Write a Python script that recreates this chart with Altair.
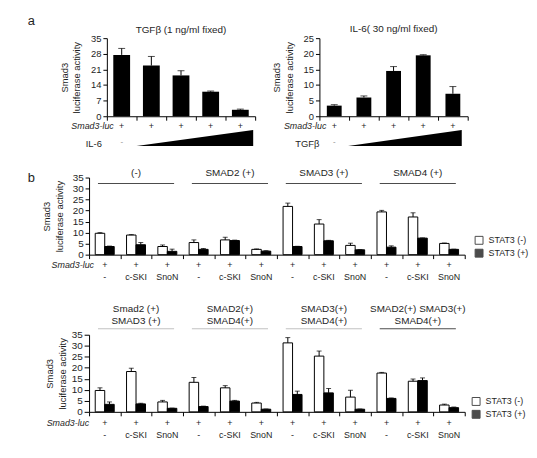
import altair as alt
import pandas as pd

FONT = "Liberation Sans"
INK = "#1e1e1e"

# ---------------- panel a data ----------------
a_steps = ["s1", "s2", "s3", "s4", "s5"]          # five dose steps
a1_title = "TGFβ (1 ng/ml fixed)"
a1_values = [27.5, 22.7, 18.3, 11.0, 2.9]
a1_errors = [2.9, 4.1, 2.1, 0.3, 0.3]
a1_ticks = [0, 7, 14, 21, 28, 35]
a1_dose_label = "IL-6"

a2_title = "IL-6( 30 ng/ml fixed)"
a2_values = [3.4, 6.0, 14.5, 19.5, 7.2]
a2_errors = [0.3, 0.5, 1.4, 0.2, 2.3]
a2_ticks = [0, 5, 10, 15, 20, 25]
a2_dose_label = "TGFβ"

luc_label = "Smad3-luc"
y_title = ["Smad3", "luciferase activity"]

# ---------------- panel b data ----------------
b_conditions = ["-", "c-SKI", "SnoN"]
b_stat3 = ["STAT3 (-)", "STAT3 (+)"]
b_ticks = [0, 5, 10, 15, 20, 25, 30, 35]

b1_groups = ["(-)", "SMAD2 (+)", "SMAD3 (+)", "SMAD4 (+)"]
b1_white = [9.7, 8.9, 3.7, 5.5, 6.7, 2.4, 21.9, 13.9, 4.2, 19.4, 17.1, 5.1]
b1_white_err = [0.3, 0.2, 0.7, 1.2, 1.2, 0.2, 1.5, 2.0, 1.0, 0.7, 1.9, 0.2]
b1_black = [3.7, 4.5, 1.5, 2.4, 6.4, 1.6, 3.7, 6.3, 2.2, 3.4, 7.5, 2.4]
b1_black_err = [0.2, 1.0, 1.0, 0.4, 0.2, 0.2, 0.1, 0.2, 0.1, 0.6, 0.1, 0.1]
b1_line_colors = ["#000000", "#000000", "#000000", "#000000"]

b2_groups_top = ["Smad2 (+)", "SMAD2(+)", "SMAD3(+)", "SMAD2(+) SMAD3(+)"]
b2_groups_bottom = ["SMAD3 (+)", "SMAD4(+)", "SMAD4(+)", "SMAD4(+)"]
b2_white = [9.7, 18.3, 4.5, 13.4, 10.9, 4.0, 31.3, 25.3, 6.7, 17.6, 13.9, 3.1]
b2_white_err = [1.2, 1.5, 0.7, 2.2, 1.0, 0.3, 2.4, 2.3, 3.1, 0.3, 1.0, 0.4]
b2_black = [3.4, 3.6, 1.6, 2.4, 4.9, 1.2, 7.9, 8.6, 1.2, 6.1, 14.2, 1.9]
b2_black_err = [1.1, 0.3, 0.1, 0.2, 0.3, 0.1, 1.5, 2.0, 0.1, 0.2, 1.2, 0.3]
b2_line_colors = ["#a8a8a8", "#a8a8a8", "#a8a8a8", "#000000"]


def note(text, x, y, color=INK, **mk):
    return alt.Chart(pd.DataFrame({"t": [text]})).mark_text(
        font=FONT, color=color, baseline="middle", **mk
    ).encode(text="t:N", x=alt.value(x), y=alt.value(y))


# ---------------- panel a ----------------
AW, AH = 150, 79


def panel_a(values, errors, ticks, ymax, title, title_y, dose_label, dose_x,
            luc_x, wedge_range, bar_w, extra):
    df = pd.DataFrame({"step": a_steps, "value": values,
                       "top": [v + e for v, e in zip(values, errors)]})
    xsc = alt.Scale(domain=a_steps, paddingInner=0, paddingOuter=0)
    xax = alt.Axis(labels=False, title=None, tickBand="extent", tickSize=4,
                   domainColor="black", tickColor="black")
    X = alt.X("step:N", scale=xsc, axis=xax)
    ysc = alt.Scale(domain=[0, ymax], nice=False)
    yax = alt.Axis(values=ticks, title=y_title, tickSize=4, labelPadding=2,
                   titlePadding=9, grid=False, labelFontSize=9.5,
                   titleLineHeight=12.5)
    base = alt.Chart(df)
    bars = base.mark_bar(color="black", width=bar_w).encode(
        x=X, y=alt.Y("value:Q", scale=ysc, axis=yax))
    err = base.mark_rule(color="black", strokeWidth=1).encode(
        x=X, y=alt.Y("value:Q", scale=ysc, axis=yax), y2="top:Q")
    cap = base.mark_tick(color="black", orient="horizontal", size=7,
                         thickness=1).encode(
        x=X, y=alt.Y("top:Q", scale=ysc, axis=yax))
    plus = base.mark_text(text="+", font=FONT, color=INK, fontSize=9,
                          baseline="middle").encode(x=X, y=alt.value(AH + 10))
    minus = alt.Chart(df.iloc[:1]).mark_text(
        text="-", font=FONT, color="#888888", fontSize=8, baseline="middle"
    ).encode(x=X, y=alt.value(AH + 26))
    layers = [bars, err, cap, plus, minus,
              note(title, AW / 2, title_y, fontSize=10, align="center"),
              note(luc_label, luc_x, AH + 10, fontSize=9, align="right",
                   fontStyle="italic"),
              note(dose_label, dose_x, AH + 28, fontSize=9.5, align="right")]
    layers += extra
    main = alt.layer(*layers)
    wdf = pd.DataFrame({"w": [0, 1], "h": [0, 1]})
    wedge = alt.Chart(wdf).mark_area(color="black").encode(
        x=alt.X("w:Q", scale=alt.Scale(domain=[0, 1], range=list(wedge_range)),
                axis=None),
        y=alt.Y("h:Q", scale=alt.Scale(domain=[0, 1], range=[AH + 30, AH + 14]),
                axis=None),
        y2=alt.value(AH + 30),
    )
    return alt.layer(main, wedge).resolve_scale(
        x="independent", y="independent").properties(width=AW, height=AH)


a1 = panel_a(a1_values, a1_errors, a1_ticks, 35, a1_title, -8, a1_dose_label,
             -5, 7, (30, 148), 17,
             [note("a", -80, -17, fontSize=13, align="left")])
a2 = panel_a(a2_values, a2_errors, a2_ticks, 25, a2_title, -9, a2_dose_label,
             0, 7, (29, 144), 15, [])
spacer = alt.Chart(pd.DataFrame({"t": [""]})).mark_text().encode(
    text="t:N").properties(width=1, height=1)
row1 = alt.hconcat(spacer, alt.hconcat(a1, a2, spacing=65, bounds="flush"),
                   spacing=17, bounds="flush")

# ---------------- panel b ----------------
BW, BH = 380, 78
b_keys = [f"{g}:{c}" for g in range(4) for c in b_conditions]


def panel_b(white, werr, black, berr, heads_top, heads_bottom, line_colors,
            head_ys, rule_y, tick_size, title_pad, luc_x, leg_xy, extra):
    rows = []
    for i, k in enumerate(b_keys):
        rows.append({"key": k, "stat": b_stat3[0], "value": white[i],
                     "top": white[i] + werr[i]})
        rows.append({"key": k, "stat": b_stat3[1], "value": black[i],
                     "top": black[i] + berr[i]})
    df = pd.DataFrame(rows)
    kdf = pd.DataFrame({"key": b_keys,
                        "cond": [k.split(":", 1)[1] for k in b_keys]})
    gdf = pd.DataFrame({"key": [f"{g}:c-SKI" for g in range(4)],
                        "l1": heads_top,
                        "l2": heads_bottom if heads_bottom else [""] * 4,
                        "lc": line_colors})

    xsc = alt.Scale(domain=b_keys, paddingInner=0, paddingOuter=0)
    xax = alt.Axis(labels=False, title=None, tickBand="extent", tickSize=4,
                   domainColor="black", tickColor="black")
    X = alt.X("key:N", scale=xsc, axis=xax)
    XO = alt.XOffset("stat:N", scale=alt.Scale(domain=b_stat3, paddingOuter=0.65,
                                              paddingInner=0))
    ysc = alt.Scale(domain=[0, 35], nice=False)
    yax = alt.Axis(values=b_ticks, title=y_title, tickSize=tick_size,
                   labelPadding=2, titlePadding=title_pad, grid=False,
                   labelFontSize=10, titleLineHeight=12.5)
    legend = alt.Legend(title=None, orient="none", legendX=leg_xy[0],
                        legendY=leg_xy[1],
                        symbolType="square", symbolSize=64,
                        symbolStrokeColor="black", symbolStrokeWidth=1,
                        symbolOpacity=1,
                        labelFont=FONT, labelFontSize=9, labelColor=INK,
                        rowPadding=0, labelOffset=5)
    base = alt.Chart(df)
    bars = base.mark_bar(stroke="black", strokeWidth=1, opacity=1).encode(
        x=X, xOffset=XO, y=alt.Y("value:Q", scale=ysc, axis=yax),
        color=alt.Color("stat:N", scale=alt.Scale(domain=b_stat3,
                                                  range=["white", "black"]),
                        legend=legend))
    err = base.mark_rule(color="black", strokeWidth=1).encode(
        x=X, xOffset=XO, y=alt.Y("value:Q", scale=ysc, axis=yax), y2="top:Q")
    cap = base.mark_tick(color="black", orient="horizontal", size=5,
                         thickness=1).encode(
        x=X, xOffset=XO, y=alt.Y("top:Q", scale=ysc, axis=yax))
    kb = alt.Chart(kdf)
    plus = kb.mark_text(text="+", font=FONT, color=INK, fontSize=9,
                        baseline="middle").encode(x=X, y=alt.value(BH + 11))
    conds = kb.mark_text(font=FONT, color=INK, fontSize=9,
                         baseline="middle").encode(
        x=X, y=alt.value(BH + 23), text="cond:N")
    gb = alt.Chart(gdf)
    h1 = gb.mark_text(font=FONT, color=INK, fontSize=10,
                      baseline="middle").encode(
        x=X, y=alt.value(head_ys[0]), text="l1:N")
    layers = [bars, err, cap, plus, conds, h1]
    if heads_bottom:
        h2 = gb.mark_text(font=FONT, color=INK, fontSize=10,
                          baseline="middle").encode(
            x=X, y=alt.value(head_ys[1]), text="l2:N")
        layers.append(h2)
    hl = gb.mark_tick(orient="horizontal", size=77, thickness=1).encode(
        x=X, y=alt.value(rule_y), color=alt.Color("lc:N", scale=None))
    layers.append(hl)
    layers.append(note(luc_label, luc_x, BH + 11, fontSize=9, align="right",
                       fontStyle="italic"))
    layers += extra
    return alt.layer(*layers).properties(width=BW, height=BH)


b1 = panel_b(b1_white, b1_white_err, b1_black, b1_black_err, b1_groups, None,
             b1_line_colors, (-5,), 6, 4, 8, 5, (390, 59),
             [note("b", -62, 0, fontSize=13, align="left")])
b2 = panel_b(b2_white, b2_white_err, b2_black, b2_black_err, b2_groups_top,
             b2_groups_bottom, b2_line_colors, (-26, -14), -6, 5, 4, 0,
             (387, 63), [])

rows23 = alt.vconcat(b1, b2, spacing=22).resolve_scale(color="independent")

chart = alt.vconcat(row1, rows23, spacing=19).properties(
    padding={"left": 20, "top": 5, "right": 0, "bottom": 0}
).configure_view(strokeWidth=0).configure_axis(
    labelFont=FONT, titleFont=FONT, labelColor=INK, titleColor=INK,
    titleFontWeight="normal", titleFontSize=9.5, domainColor="black",
    tickColor="black", grid=False
)

chart.save("out.html", embed_options={"renderer": "svg", "actions": False})
